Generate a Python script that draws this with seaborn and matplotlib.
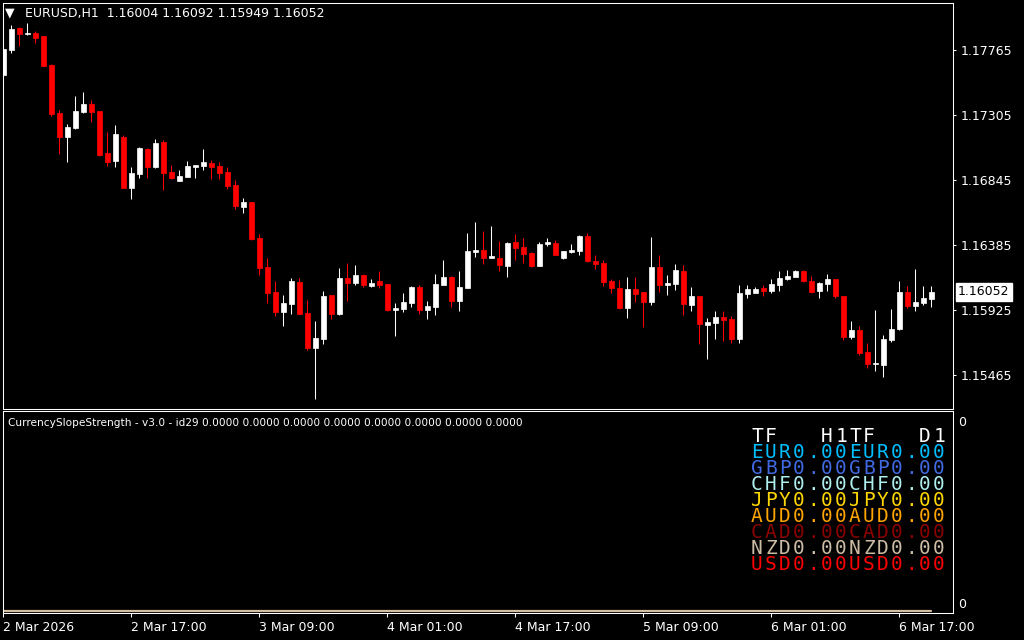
import numpy as np
import pandas as pd
import seaborn as sns
import matplotlib
matplotlib.use("Agg")
import matplotlib.pyplot as plt
import matplotlib.transforms as mtransforms

# ---- data --------------------------------------------------------------
symbol = "EURUSD,H1"
header_ohlc = ["1.16004", "1.16092", "1.15949", "1.16052"]

opens = [1.17588, 1.17765, 1.17921, 1.17875, 1.17885, 1.17864, 1.17659, 1.17319, 1.17149, 1.17211,
         1.17326, 1.17383, 1.17333, 1.17036, 1.16979, 1.17149, 1.16788, 1.16887, 1.17064, 1.16937,
         1.17114, 1.16901, 1.16838, 1.16866, 1.16937, 1.16944, 1.16965, 1.16944, 1.16901, 1.16809,
         1.16653, 1.16689, 1.16434, 1.16229, 1.16052, 1.15910, 1.15967, 1.16122, 1.15903, 1.15655,
         1.15719, 1.16030, 1.15896, 1.16151, 1.16115, 1.16172, 1.16094, 1.16130, 1.16108, 1.15924,
         1.15931, 1.15974, 1.16087, 1.15924, 1.15945, 1.16101, 1.16158, 1.15988, 1.16080, 1.16335,
         1.16349, 1.16292, 1.16292, 1.16236, 1.16406, 1.16370, 1.16328, 1.16236, 1.16391, 1.16399,
         1.16292, 1.16335, 1.16342, 1.16448, 1.16271, 1.16257, 1.16130, 1.16080, 1.15938, 1.16073,
         1.16052, 1.15981, 1.16229, 1.16101, 1.16108, 1.16200, 1.15960, 1.16023, 1.15818, 1.15832,
         1.15875, 1.15860, 1.15719, 1.16037, 1.16045, 1.16080, 1.16059, 1.16101, 1.16144, 1.16158,
         1.16200, 1.16130, 1.16059, 1.16108, 1.16144, 1.16023, 1.15733, 1.15783, 1.15627, 1.15542,
         1.15535, 1.15712, 1.15790, 1.16052, 1.15953, 1.15974, 1.16004]
highs = [1.17779, 1.17942, 1.17930, 1.17954, 1.17900, 1.17866, 1.17668, 1.17340, 1.17241, 1.17439,
         1.17468, 1.17411, 1.17336, 1.17184, 1.17234, 1.17163, 1.16937, 1.17078, 1.17071, 1.17135,
         1.17128, 1.16951, 1.16915, 1.16979, 1.16953, 1.17064, 1.16986, 1.16972, 1.16937, 1.16845,
         1.16717, 1.16692, 1.16462, 1.16292, 1.16130, 1.16030, 1.16151, 1.16151, 1.15995, 1.15846,
         1.16059, 1.16033, 1.16222, 1.16257, 1.16243, 1.16179, 1.16144, 1.16200, 1.16111, 1.15974,
         1.16045, 1.16094, 1.16101, 1.15988, 1.16179, 1.16278, 1.16165, 1.16200, 1.16469, 1.16547,
         1.16484, 1.16519, 1.16413, 1.16406, 1.16462, 1.16434, 1.16335, 1.16406, 1.16434, 1.16420,
         1.16345, 1.16391, 1.16455, 1.16469, 1.16314, 1.16278, 1.16144, 1.16137, 1.16158, 1.16158,
         1.16055, 1.16441, 1.16314, 1.16172, 1.16250, 1.16243, 1.16087, 1.16026, 1.15868, 1.15917,
         1.15917, 1.15882, 1.16101, 1.16101, 1.16087, 1.16101, 1.16144, 1.16200, 1.16207, 1.16207,
         1.16207, 1.16165, 1.16122, 1.16179, 1.16147, 1.16026, 1.15846, 1.15811, 1.15691, 1.15924,
         1.15747, 1.15931, 1.16130, 1.16094, 1.16214, 1.16094, 1.16092]
lows = [1.17553, 1.17746, 1.17793, 1.17871, 1.17817, 1.17650, 1.17300, 1.17029, 1.16972, 1.17204,
        1.17319, 1.17255, 1.17015, 1.16944, 1.16937, 1.16785, 1.16710, 1.16859, 1.16859, 1.16930,
        1.16774, 1.16855, 1.16836, 1.16864, 1.16859, 1.16915, 1.16852, 1.16852, 1.16781, 1.16639,
        1.16611, 1.16420, 1.16172, 1.15974, 1.15882, 1.15811, 1.15896, 1.15893, 1.15641, 1.15294,
        1.15683, 1.15860, 1.15889, 1.15988, 1.16101, 1.16087, 1.16087, 1.16080, 1.15917, 1.15740,
        1.15910, 1.15945, 1.15896, 1.15860, 1.15889, 1.16098, 1.15945, 1.15917, 1.16077, 1.16299,
        1.16250, 1.16290, 1.16200, 1.16158, 1.16278, 1.16257, 1.16229, 1.16233, 1.16377, 1.16311,
        1.16285, 1.16328, 1.16314, 1.16264, 1.16214, 1.16094, 1.16045, 1.15931, 1.15868, 1.15981,
        1.15804, 1.15960, 1.16052, 1.16030, 1.16066, 1.15889, 1.15917, 1.15683, 1.15577, 1.15719,
        1.15705, 1.15691, 1.15691, 1.16009, 1.16042, 1.16023, 1.16045, 1.16059, 1.16137, 1.16155,
        1.16122, 1.16045, 1.16009, 1.16059, 1.16009, 1.15712, 1.15719, 1.15606, 1.15514, 1.15492,
        1.15450, 1.15698, 1.15783, 1.15938, 1.15917, 1.15960, 1.15949]
closes = [1.17772, 1.17914, 1.17878, 1.17882, 1.17850, 1.17654, 1.17312, 1.17149, 1.17220, 1.17333,
          1.17383, 1.17326, 1.17022, 1.16972, 1.17170, 1.16788, 1.16894, 1.17071, 1.16937, 1.17107,
          1.16894, 1.16859, 1.16873, 1.16944, 1.16951, 1.16972, 1.16937, 1.16894, 1.16802, 1.16661,
          1.16689, 1.16427, 1.16222, 1.16045, 1.15910, 1.15974, 1.16130, 1.15896, 1.15655, 1.15726,
          1.16023, 1.15896, 1.16151, 1.16115, 1.16172, 1.16101, 1.16115, 1.16101, 1.15924, 1.15938,
          1.15981, 1.16087, 1.15924, 1.15953, 1.16108, 1.16158, 1.15988, 1.16087, 1.16342, 1.16349,
          1.16292, 1.16307, 1.16243, 1.16399, 1.16363, 1.16321, 1.16236, 1.16391, 1.16406, 1.16314,
          1.16342, 1.16349, 1.16448, 1.16271, 1.16250, 1.16122, 1.16080, 1.15938, 1.16073, 1.16037,
          1.15981, 1.16229, 1.16101, 1.16115, 1.16207, 1.15967, 1.16023, 1.15825, 1.15839, 1.15875,
          1.15853, 1.15719, 1.16045, 1.16073, 1.16073, 1.16059, 1.16108, 1.16151, 1.16165, 1.16200,
          1.16130, 1.16052, 1.16115, 1.16144, 1.16023, 1.15733, 1.15783, 1.15620, 1.15542, 1.15549,
          1.15719, 1.15790, 1.16052, 1.15953, 1.15981, 1.16009, 1.16052]

time_ticks = [0, 16, 32, 48, 64, 80, 96, 112]
time_labels = ["2 Mar 2026", "2 Mar 17:00", "3 Mar 09:00", "4 Mar 01:00",
               "4 Mar 17:00", "5 Mar 09:00", "6 Mar 01:00", "6 Mar 17:00"]
price_ticks = [1.17765, 1.17305, 1.16845, 1.16385, 1.15925, 1.15465]
last_price = 1.16052

indicator_name = "CurrencySlopeStrength - v3.0 - id29"
indicator_buffers = [0.0, 0.0, 0.0, 0.0, 0.0, 0.0, 0.0, 0.0]
timeframes = ["H1", "D1"]
currencies = ["EUR", "GBP", "CHF", "JPY", "AUD", "CAD", "NZD", "USD"]
strength_h1 = [0.00, 0.00, 0.00, 0.00, 0.00, 0.00, 0.00, 0.00]
strength_d1 = [0.00, 0.00, 0.00, 0.00, 0.00, 0.00, 0.00, 0.00]
currency_colors = ["#00bfff", "#4169e1", "#afeeee", "#ffd700",
                   "#ffa500", "#8b0000", "#cdbda5", "#ff0000"]

# ---- style ---------------------------------------------------------------
sns.set_theme(style="dark", rc={"axes.facecolor": "black", "figure.facecolor": "black",
                                "axes.edgecolor": "white", "text.color": "white",
                                "xtick.color": "white", "ytick.color": "white"})
plt.rcParams['font.family'] = ['DejaVu Sans']

W, H = 1024, 640


def box(x0, y0, x1, y1):
    return [x0 / W, 1 - y1 / H, (x1 - x0) / W, (y1 - y0) / H]


df = pd.DataFrame({"open": opens, "high": highs, "low": lows, "close": closes})
df["bar"] = np.arange(len(df))
df["up"] = df["close"] >= df["open"]
df["color"] = np.where(df["up"], "white", "red")
df["body_lo"] = df[["open", "close"]].min(axis=1)
df["body_h"] = (df["close"] - df["open"]).abs()

fig = plt.figure(figsize=(10.24, 6.4), dpi=100)
ax = fig.add_axes(box(2.5, 2.5, 953, 408.5))
ind = fig.add_axes(box(2.5, 411, 953, 613))

xlim = (-0.125, 118.69)

# main price panel
ax.vlines(df["bar"], df["low"], df["high"], colors=df["color"], linewidth=0.75)
ax.bar(df["bar"], df["body_h"], bottom=df["body_lo"], width=0.55,
       color=df["color"], edgecolor=df["color"], linewidth=0.5)
ax.set_xlim(*xlim)
ax.set_ylim(1.15227, 1.18101)
ax.yaxis.tick_right()
ax.set_yticks(price_ticks)
ax.set_yticklabels(["%.5f" % p for p in price_ticks])
ax.tick_params(axis="y", length=2.5, width=0.75, pad=3, labelsize=9, colors="white")
ax.set_xticks([])
for s in ax.spines.values():
    s.set_color("white")
    s.set_linewidth(0.75)

trans = mtransforms.blended_transform_factory(ax.transAxes, ax.transData)
ax.text(1.0054, last_price, "%.5f" % last_price, transform=trans, va="center", ha="left",
        color="black", fontsize=9,
        bbox=dict(facecolor="white", edgecolor="white", boxstyle="square,pad=0.2"))

fig.text(5 / W, 1 - 13 / H, "\u25bc", color="white", fontsize=9, va="center")
fig.text(25 / W, 1 - 14 / H, symbol + "  " + " ".join(header_ohlc),
         color="white", fontsize=9, va="center")

# indicator panel
sns.lineplot(x=df["bar"], y=np.zeros(len(df)), color="#d2bea0", linewidth=1.6, ax=ind)
ind.set_xlim(*xlim)
ind.set_ylim(-0.008, 1)
ind.set_yticks([])
ind.set_ylabel("")
ind.set_xlabel("")
ind.set_xticks(time_ticks)
ind.set_xticklabels(time_labels)
for lbl in ind.get_xticklabels():
    lbl.set_ha("left")
ind.tick_params(axis="x", length=3, width=0.75, pad=3, labelsize=9, colors="white",
                bottom=True, direction="out")
for s in ind.spines.values():
    s.set_color("white")
    s.set_linewidth(0.75)

fig.text(8 / W, 1 - 423 / H,
         indicator_name + " " + " ".join("%.4f" % v for v in indicator_buffers),
         color="white", fontsize=7.6, va="center")
fig.text(958 / W, 1 - 422 / H, "0", color="white", fontsize=9, va="center")
fig.text(958 / W, 1 - 604 / H, "0", color="white", fontsize=9, va="center")

# strength table, one fixed-width cell per character
header = "".join("TF" + tf.rjust(5) for tf in timeframes)
lines = [(header, "white")]
for cur, h1, d1, col in zip(currencies, strength_h1, strength_d1, currency_colors):
    lines.append(("%s%.2f%s%.2f" % (cur, h1, cur, d1), col))

for k, (line, col) in enumerate(lines):
    base = 442 + 16 * k
    for c, ch in enumerate(line):
        if ch == " ":
            continue
        fig.text((750 + 7 + 14 * c) / W, 1 - base / H, ch, color=col, fontsize=14,
                 family="DejaVu Sans Mono", ha="center", va="baseline")

fig.savefig("out.png", dpi=100, facecolor="black")
